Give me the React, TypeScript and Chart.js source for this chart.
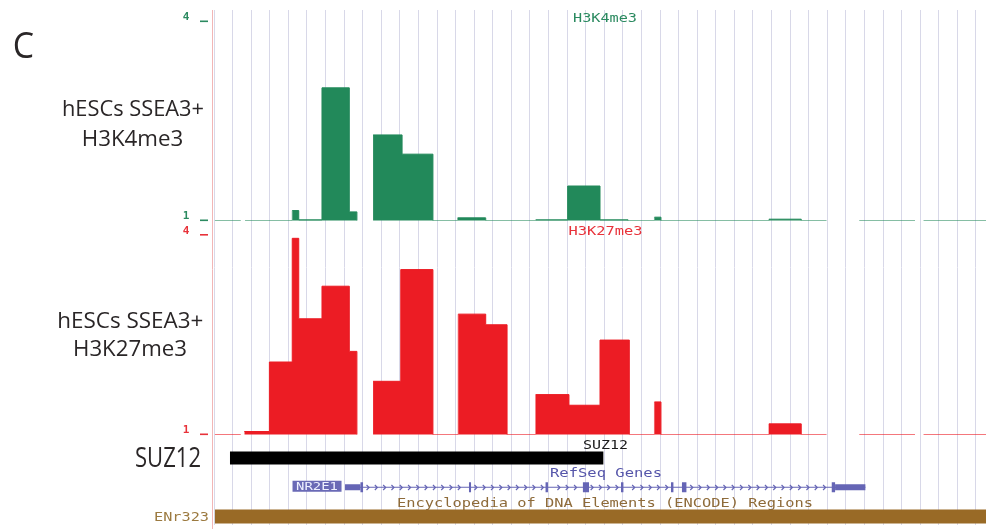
import { useEffect, useRef } from "react";
import { Chart, registerables } from "chart.js";
Chart.register(...registerables);

// ---- data (genomic position in guide-line units, one vertical guide per unit) ----
const k4Edges = [0.05, 1.44, 1.67, 4.21, 4.56, 5.81, 7.28, 7.69, 8.56, 10.12, 11.78, 13.11, 14.62, 17.31, 19.03, 20.77, 22.28, 23.7, 24.05, 29.86, 31.6, 32.96, 34.72, 37.72, 38.18, 41.54];
const k4Values: (number | null)[] = [1, null, 1, 1.15, 1.01, 3.0, 1.13, null, 2.29, 2.0, 1, 1.04, 1, 1.01, 1.52, 1.01, 1, 1.05, 1, 1.02, 1, null, 1, null, 1];

const k27Edges = [0.05, 1.44, 1.63, 2.98, 4.21, 4.56, 5.81, 7.28, 7.69, 8.56, 10.05, 11.78, 13.14, 14.62, 15.77, 17.31, 19.1, 20.77, 22.35, 23.7, 24.05, 29.86, 31.6, 32.96, 34.72, 37.72, 38.18, 41.54];
const k27Values: (number | null)[] = [1, null, 1.045, 2.09, 3.95, 2.74, 3.23, 2.25, null, 1.8, 3.48, 1, 2.81, 2.65, 1, 1.6, 1.44, 2.42, 1, 1.49, 1, 1.16, 1, null, 1, null, 1];

const trackTicks = [4, 1];
const trackBase = 1;

const suz12Peak = [0.86, 20.95];
const geneName = "NR2E1";
const geneTx = [7.05, 35.05];
const geneUtrs = [[7.05, 7.88], [33.42, 35.05]];
const geneExons = [[7.88, 8.02], [13.72, 13.83], [17.84, 17.97], [19.85, 20.18], [21.9, 22.03], [24.59, 24.72], [25.18, 25.42], [33.24, 33.42]];
const encodeRegion = [0.05, 41.54];
const encodeName = "ENr323";

const X_MIN = -0.054;
const X_MAX = 41.54;

// ---- layout / style ----
const W = 986;
const H = 529;
const AREA_TOP = 10;
const AREA_BOTTOM = 525;
const GREEN = "#22895a";
const GREEN_LIGHT = "rgba(34,137,90,0.55)";
const GREEN_TEXT = "#2b8a60";
const RED = "#ec1c24";
const RED_LIGHT = "rgba(236,28,36,0.6)";
const RED_TEXT = "#e8323a";
const GENE = "#6565b5";
const BROWN = "#996a26";
const BROWN_TEXT = "#8e6b3a";
const LABEL = "#2a2627";
const MONO = '"DejaVu Sans Mono"';
const SANS = '"Open Sans"';

function axisRange(vLow: number, pLow: number, vHigh: number, pHigh: number) {
  const s = (pLow - pHigh) / (vHigh - vLow);
  return { min: vLow - (AREA_BOTTOM - pLow) / s, max: vHigh + (pHigh - AREA_TOP) / s };
}

function stepPoints(edges: number[], values: (number | null)[], base: number) {
  const pts: { x: number; y: number | null }[] = [];
  for (let i = 0; i < values.length; i++) {
    const v = values[i];
    if (v === null) {
      pts.push({ x: edges[i], y: base });
      pts.push({ x: (edges[i] + edges[i + 1]) / 2, y: null });
    } else {
      pts.push({ x: edges[i], y: v });
    }
  }
  pts.push({ x: edges[edges.length - 1], y: base });
  return pts;
}

function spans(list: number[][], row: number) {
  const pts: { x: number; y: number | null }[] = [];
  list.forEach(([a, b], i) => {
    if (i > 0) pts.push({ x: (list[i - 1][1] + a) / 2, y: null });
    pts.push({ x: a, y: row });
    pts.push({ x: b, y: row });
  });
  return pts;
}

function fitText(ctx: CanvasRenderingContext2D, text: string, x: number, baseline: number, width: number, font: string, color: string, align: "left" | "center" | "right") {
  ctx.save();
  ctx.font = font;
  ctx.fillStyle = color;
  ctx.textBaseline = "alphabetic";
  ctx.textAlign = "left";
  const w = ctx.measureText(text).width;
  const sx = width / w;
  const left = align === "center" ? x - width / 2 : align === "right" ? x - width : x;
  ctx.translate(left, baseline);
  ctx.scale(sx, 1);
  ctx.fillText(text, 0, 0);
  ctx.restore();
}

const ROW_SUZ = 3;
const ROW_GENE = 2;
const ROW_ENC = 1;

const decorPlugin = {
  id: "decor",
  afterDatasetsDraw(chart: any) {
    const ctx: CanvasRenderingContext2D = chart.ctx;
    const xs = chart.scales.x;
    const yr = chart.scales.yRow;
    const gy = Math.round(yr.getPixelForValue(ROW_GENE)) + 0.5;
    // intron chevrons
    const exPx = geneExons.map(([a, b]) => [xs.getPixelForValue(a), xs.getPixelForValue(b)]);
    const start = xs.getPixelForValue(geneExons[0][1]) + 5;
    const end = xs.getPixelForValue(geneExons[geneExons.length - 1][0]) - 3;
    ctx.save();
    ctx.strokeStyle = GENE;
    ctx.lineWidth = 1.2;
    for (let x = start; x < end; x += 8.3) {
      if (exPx.some(([a, b]) => x > a - 3 && x < b + 3)) continue;
      ctx.beginPath();
      ctx.moveTo(x - 1.5, gy - 2.5);
      ctx.lineTo(x + 1, gy);
      ctx.lineTo(x - 1.5, gy + 2.5);
      ctx.stroke();
    }
    ctx.restore();
  },
  afterDraw(chart: any) {
    const ctx: CanvasRenderingContext2D = chart.ctx;
    const xs = chart.scales.x;
    const yr = chart.scales.yRow;
    const area = chart.chartArea;
    // left border line
    ctx.save();
    ctx.strokeStyle = "#f2b6b6";
    ctx.lineWidth = 1;
    ctx.beginPath();
    ctx.moveTo(area.left - 0.5, area.top);
    ctx.lineTo(area.left - 0.5, H);
    ctx.stroke();
    ctx.restore();

    // tick labels for the two signal tracks
    const tickFont = `bold 11px ${MONO}`;
    [
      { id: "yK4", color: GREEN_TEXT },
      { id: "yK27", color: RED_TEXT },
    ].forEach(({ id, color }) => {
      const s = chart.scales[id];
      trackTicks.forEach((v) => {
        const p = s.getPixelForValue(v);
        ctx.save();
        ctx.font = tickFont;
        ctx.fillStyle = color;
        ctx.textAlign = "center";
        ctx.textBaseline = "alphabetic";
        ctx.fillText(String(v), 186, p - 1.5);
        ctx.fillRect(200, p - 1, 8, 1.6);
        ctx.restore();
      });
    });

    const mono = `12px ${MONO}`;
    const mid = 605;
    fitText(ctx, "H3K4me3", mid, chart.scales.yK4.getPixelForValue(4) + 0.5, 64, mono, GREEN_TEXT, "center");
    fitText(ctx, "H3K27me3", mid + 0.5, chart.scales.yK27.getPixelForValue(4), 74, mono, RED_TEXT, "center");
    fitText(ctx, "SUZ12", mid + 0.5, yr.getPixelForValue(ROW_SUZ) - 9.5, 45, mono, "#1c1c1c", "center");
    fitText(ctx, "RefSeq Genes", mid + 1, yr.getPixelForValue(ROW_GENE) - 10, 112, mono, "#5656aa", "center");
    fitText(ctx, "Encyclopedia of DNA Elements (ENCODE) Regions", mid, yr.getPixelForValue(ROW_ENC) - 10, 416, mono, BROWN_TEXT, "center");
    fitText(ctx, encodeName, 209, yr.getPixelForValue(ROW_ENC) + 4.5, 55, mono, "#9c7a40", "right");

    // gene name box
    const gx = xs.getPixelForValue(geneTx[0]) - 3.5;
    const gy = yr.getPixelForValue(ROW_GENE);
    ctx.save();
    ctx.fillStyle = "#6a6ab6";
    ctx.fillRect(gx - 49, gy - 6.5, 49, 11);
    ctx.restore();
    fitText(ctx, geneName, gx - 24.5, gy + 3, 42, `11px ${MONO}`, "#eef0ff", "center");

    // left hand labels
    const big = `22px ${SANS}`;
    fitText(ctx, "C", 12.7, 58.3, 21.3, `37px ${SANS}`, LABEL, "left");
    fitText(ctx, "hESCs SSEA3+", 133, 116, 142, big, LABEL, "center");
    fitText(ctx, "H3K4me3", 132.5, 145.7, 101.6, big, LABEL, "center");
    fitText(ctx, "hESCs SSEA3+", 130.3, 327.5, 146, big, LABEL, "center");
    fitText(ctx, "H3K27me3", 130, 356, 114, big, LABEL, "center");
    fitText(ctx, "SUZ12", 135, 466.5, 66, `27px ${SANS}`, LABEL, "left");
  },
};

const k4Range = axisRange(1, 220.5, 4, 21.5);
const k27Range = axisRange(1, 434.5, 4, 235);
const rowRange = axisRange(ROW_ENC, 516.5, ROW_SUZ, 458);

function signalDataset(edges: number[], values: (number | null)[], yAxisID: string, dark: string, light: string) {
  return {
    type: "line" as const,
    data: stepPoints(edges, values, trackBase),
    yAxisID,
    stepped: "before" as const,
    fill: { value: trackBase },
    backgroundColor: dark,
    borderColor: dark,
    borderWidth: 1,
    pointRadius: 0,
    spanGaps: false,
    segment: {
      borderColor: (c: any) => (c.p0.parsed.y <= trackBase + 1e-6 ? light : dark),
    },
  };
}

function bandDataset(data: any[], color: string, width: number) {
  return {
    type: "line" as const,
    data,
    yAxisID: "yRow",
    borderColor: color,
    backgroundColor: color,
    borderWidth: width,
    borderCapStyle: "butt" as const,
    pointRadius: 0,
    fill: false,
    spanGaps: false,
  };
}

export default function App() {
  const ref = useRef<HTMLCanvasElement>(null);
  useEffect(() => {
    const canvas = ref.current;
    if (!canvas) return;
    const chart = new Chart(canvas, {
      type: "line",
      data: {
        datasets: [
          signalDataset(k4Edges, k4Values, "yK4", GREEN, GREEN_LIGHT),
          signalDataset(k27Edges, k27Values, "yK27", RED, RED_LIGHT),
          bandDataset(spans([suz12Peak], ROW_SUZ), "#000000", 13),
          bandDataset(spans(geneExons, ROW_GENE), GENE, 10),
          bandDataset(spans(geneUtrs, ROW_GENE), GENE, 6),
          bandDataset(spans([geneTx], ROW_GENE), GENE, 1),
          bandDataset(spans([encodeRegion], ROW_ENC), BROWN, 14),
        ] as any,
      },
      options: {
        animation: false,
        responsive: false,
        devicePixelRatio: 1,
        events: [],
        layout: { padding: { left: 213, top: AREA_TOP, right: 0, bottom: H - AREA_BOTTOM } },
        plugins: { legend: { display: false }, tooltip: { enabled: false } },
        scales: {
          x: {
            type: "linear",
            min: X_MIN,
            max: X_MAX,
            display: true,
            border: { display: false },
            grid: { color: "rgb(216,216,232)", lineWidth: 1, drawTicks: false },
            ticks: { display: false, stepSize: 1, includeBounds: false },
            afterBuildTicks: (s: any) => {
              s.ticks = s.ticks.filter((t: any) => Number.isInteger(t.value) && t.value >= 0);
            },
          },
          yK4: { type: "linear", display: false, min: k4Range.min, max: k4Range.max },
          yK27: { type: "linear", display: false, min: k27Range.min, max: k27Range.max },
          yRow: { type: "linear", display: false, min: rowRange.min, max: rowRange.max },
        },
      } as any,
      plugins: [decorPlugin],
    });
    return () => chart.destroy();
  }, []);
  return (
    <div style={{ position: "absolute", left: 0, top: 0, width: W, height: H, background: "#ffffff" }}>
      <canvas ref={ref} width={W} height={H} style={{ display: "block", width: W, height: H }} />
    </div>
  );
}
